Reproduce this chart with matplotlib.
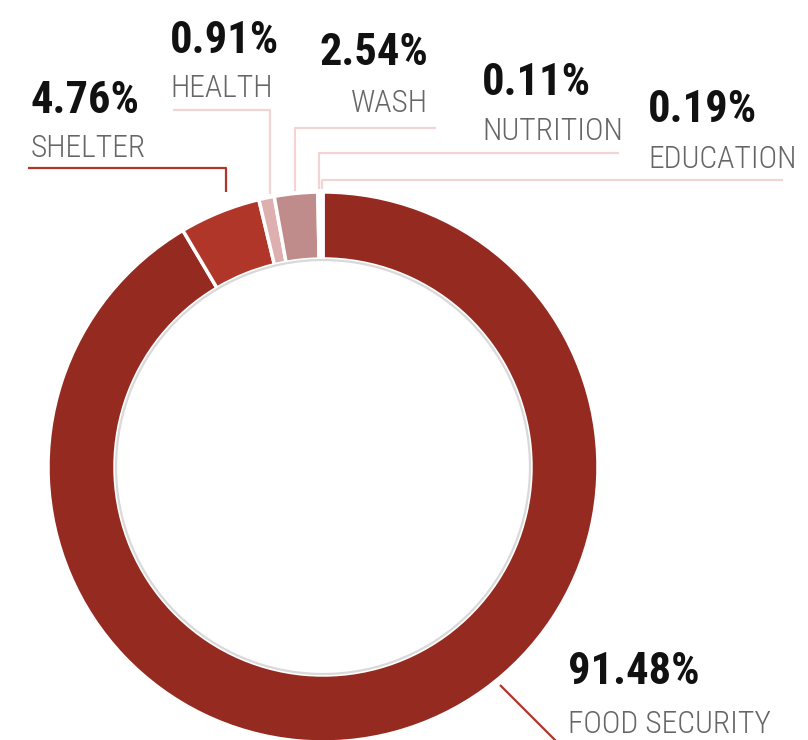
import matplotlib
matplotlib.use("Agg")
import matplotlib.pyplot as plt
from matplotlib.patches import Circle
from matplotlib import font_manager
from matplotlib.font_manager import FontProperties
import numpy as np

# data
sectors = ["FOOD SECURITY", "SHELTER", "HEALTH", "WASH", "NUTRITION", "EDUCATION"]
shares = [91.48, 4.76, 0.91, 2.54, 0.11, 0.19]
pct_labels = ["91.48%", "4.76%", "0.91%", "2.54%", "0.11%", "0.19%"]

colors = ["#952B20", "#B1362A", "#DDAFAE", "#C08B8B", "#EFCFCC", "#EFCFCC"]


def pick_font(weight):
    # look for a narrow face first, the reference uses a condensed typeface
    for fam in ["Roboto Condensed", "DejaVu Sans", "Liberation Sans Narrow", "Open Sans", "Noto Sans"]:
        try:
            path = font_manager.findfont(FontProperties(family=fam, weight=weight, stretch="condensed"),
                                         fallback_to_default=False)
        except ValueError:
            continue
        if any(k in path for k in ("Condensed", "Narrow", "Cond")):
            return FontProperties(fname=path)
    return FontProperties(family="Roboto", weight=weight)


fp_num = pick_font("bold")
fp_lab = pick_font("light")

W, H = 808, 740
fig = plt.figure(figsize=(W / 100, H / 100), dpi=100)
ax = fig.add_axes([0, 0, 1, 1])


def Y(y):  # image (top-down) pixel row -> axes y
    return H - y


cx, cy, R, r_in = 323, Y(467), 275, 208
ax.pie(shares, colors=colors, radius=R, center=(cx, cy), startangle=90,
       counterclock=False, frame=True,
       wedgeprops=dict(width=R - r_in, edgecolor="white", linewidth=2.5))
ax.set_xlim(0, W)
ax.set_ylim(0, H)
ax.set_aspect("equal")
ax.axis("off")
ax.add_patch(Circle((cx, cy), r_in - 1, fill=False, edgecolor="#d9d9d9", lw=1.6))

dark = "#B1362A"
pink = "#F2D5D2"
# leader lines (image coords)
leaders = [
    ([500, 557], [685, 742], dark),
    ([28, 226, 226], [168, 168, 192], dark),
    ([173, 270, 270], [110, 110, 194], pink),
    ([436, 295, 295], [128, 128, 191], pink),
    ([619, 319, 319], [153, 153, 189], pink),
    ([783, 322, 322], [180, 180, 189], pink),
]
for xs, ys, c in leaders:
    ax.plot(xs, [Y(v) for v in ys], color=c, lw=1.6, solid_capstyle="butt")

# label anchors: x, number baseline, name baseline, alignment
anchors = [
    (568, 684, 733, "left"),
    (31, 113, 157, "left"),
    (170, 53, 97, "left"),
    (428, 65, 112, "right"),
    (482, 95, 140, "left"),
    (648, 122, 168, "left"),
]
# widths of the texts in the reference (px), used to size the font
num_w = [116, 98, 95, 105, 86, 95]
lab_w = [202, 111, 97, 77, 136, 143]

nums, labs = [], []
for (x, yb1, yb2, ha), pct, name in zip(anchors, pct_labels, sectors):
    nums.append(ax.text(x, Y(yb1), pct, ha=ha, va="baseline", fontproperties=fp_num,
                        fontsize=20, color="#111111"))
    labs.append(ax.text(x, Y(yb2), name, ha=ha, va="baseline", fontproperties=fp_lab,
                        fontsize=20, color="#666666"))

rend = fig.canvas.get_renderer()
# the reference face is narrower, so grow a little past the width match
for group, widths, boost in ((nums, num_w, 1.14), (labs, lab_w, 1.04)):
    k = np.median([w / t.get_window_extent(rend).width for t, w in zip(group, widths)])
    for t in group:
        t.set_fontsize(20 * k * boost)

fig.savefig("out.png", dpi=100)
